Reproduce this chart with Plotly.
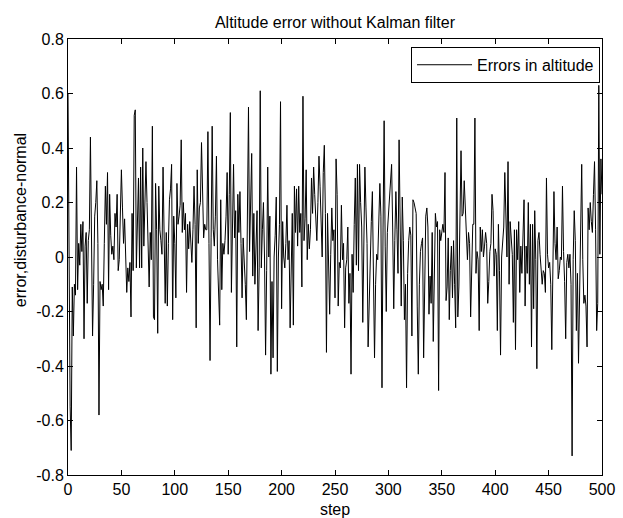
import plotly.graph_objects as go

# step index 0..500
steps = list(range(501))

# altitude error values (one per step)
errors_0_99 = [
    0.60, -0.20, -0.55, -0.71, -0.11, -0.29, -0.10, -0.14, 0.33, -0.12,
    0.05, -0.03, 0.12, 0.02, 0.13, -0.30, 0.04, 0.09, -0.17, 0.06,
    0.10, 0.44, 0.02, -0.29, -0.10, 0.15, 0.20, 0.28, 0.05, -0.58,
    -0.09, -0.12, -0.10, -0.18, 0.05, 0.26, 0.12, 0.31, -0.12, 0.23,
    0.08, 0.01, 0.04, -0.01, 0.16, 0.11, 0.23, -0.05, -0.01, 0.15,
    0.32, 0.18, 0.05, 0.14, 0.02, -0.13, -0.04, -0.09, -0.02, -0.22,
    0.16, -0.05, 0.52, 0.54, -0.04, 0.12, 0.29, -0.04, 0.33, -0.04,
    0.40, 0.04, 0.21, 0.35, 0.20, 0.07, -0.11, 0.09, -0.01, 0.48,
    -0.22, -0.23, 0.27, 0.10, -0.28, 0.26, 0.10, 0.06, 0.01, 0.33,
    0.12, -0.17, 0.09, -0.18, 0.05, 0.21, 0.25, 0.34, -0.23, 0.15,
]
errors_100_199 = [
    0.05, -0.15, 0.27, 0.12, 0.15, 0.19, 0.43, 0.09, 0.20, 0.10,
    0.16, -0.13, 0.12, 0.03, 0.13, 0.05, -0.02, 0.10, 0.26, 0.12,
    -0.26, 0.32, 0.05, 0.18, 0.20, 0.42, 0.22, 0.07, 0.12, 0.10,
    0.10, 0.46, 0.05, -0.38, 0.07, 0.48, 0.10, 0.04, 0.15, 0.37,
    -0.01, -0.11, -0.25, 0.21, -0.12, 0.05, 0.01, 0.06, 0.15, 0.31,
    0.01, 0.23, 0.53, -0.13, 0.10, 0.34, 0.07, 0.17, -0.33, 0.23,
    0.09, 0.24, 0.05, -0.15, 0.07, -0.01, -0.10, -0.23, 0.17, 0.55,
    0.02, 0.20, 0.38, -0.07, 0.16, -0.10, 0.03, 0.17, -0.27, -0.04,
    0.61, -0.04, 0.10, 0.20, 0.00, -0.36, -0.05, 0.33, 0.00, 0.15,
    -0.43, -0.09, -0.37, 0.00, 0.08, 0.22, -0.42, 0.00, 0.12, 0.57,
]
errors_200_299 = [
    -0.19, 0.13, 0.00, -0.04, 0.05, 0.19, -0.01, 0.06, -0.26, 0.02,
    0.16, -0.25, 0.26, 0.09, 0.25, 0.04, 0.26, 0.09, 0.16, -0.11,
    0.59, 0.06, 0.14, 0.32, -0.01, 0.12, 0.03, 0.10, 0.29, 0.16,
    0.33, 0.23, 0.15, 0.06, 0.20, 0.37, 0.26, 0.12, 0.00, 0.31,
    0.41, 0.16, -0.35, 0.16, 0.02, -0.21, 0.01, 0.18, 0.06, 0.10,
    -0.15, 0.36, 0.23, -0.18, -0.02, -0.04, 0.19, -0.01, 0.05, -0.26,
    -0.04, -0.01, 0.11, -0.17, -0.06, -0.43, 0.01, -0.13, 0.12, 0.29,
    -0.03, 0.34, -0.05, 0.34, 0.20, 0.11, -0.24, 0.11, 0.33, 0.18,
    0.05, -0.33, -0.16, 0.02, 0.13, 0.24, -0.08, -0.37, -0.10, 0.01,
    -0.01, 0.11, 0.27, 0.15, -0.48, 0.11, 0.50, 0.04, -0.20, 0.09,
]
errors_300_399 = [
    0.15, 0.23, 0.28, 0.34, 0.11, -0.19, 0.06, 0.24, 0.10, -0.06,
    0.43, 0.04, -0.18, 0.22, 0.06, -0.23, -0.10, -0.48, -0.06, 0.06,
    0.11, 0.08, -0.29, 0.21, 0.20, 0.18, 0.16, -0.18, -0.43, -0.10,
    0.02, 0.05, 0.07, -0.37, -0.01, 0.15, 0.18, 0.11, -0.21, -0.07,
    -0.17, 0.09, -0.31, -0.10, 0.16, 0.11, 0.13, -0.49, 0.10, 0.06,
    0.09, 0.12, 0.09, 0.31, -0.16, -0.11, 0.07, -0.23, -0.05, 0.04,
    -0.15, 0.06, -0.10, -0.26, 0.51, -0.22, -0.11, 0.21, 0.39, 0.15,
    0.16, 0.28, 0.20, 0.12, -0.01, 0.09, 0.05, -0.22, -0.05, 0.12,
    0.12, 0.51, -0.06, 0.02, -0.01, -0.27, 0.11, 0.02, 0.10, 0.00,
    0.04, 0.09, 0.05, -0.17, -0.09, 0.02, 0.05, 0.23, 0.17, -0.07,
]
errors_400_500 = [
    0.03, 0.01, -0.27, 0.12, -0.05, -0.36, 0.00, 0.06, 0.11, 0.31,
    0.15, 0.00, 0.35, -0.10, 0.13, 0.05, 0.01, -0.24, 0.10, -0.34,
    0.10, -0.01, 0.13, -0.13, 0.04, -0.06, 0.12, 0.21, -0.18, 0.04,
    -0.06, 0.20, -0.10, 0.12, -0.33, 0.12, -0.19, 0.17, -0.01, -0.41,
    0.06, 0.09, 0.01, -0.05, -0.10, -0.05, -0.06, -0.13, 0.29, 0.01,
    -0.04, -0.02, -0.10, -0.34, -0.01, 0.24, 0.05, -0.01, 0.11, -0.08,
    -0.05, 0.00, -0.01, 0.26, 0.02, -0.09, -0.30, -0.02, 0.01, -0.04,
    0.01, -0.10, -0.73, -0.01, 0.17, 0.06, -0.27, -0.06, -0.39, -0.09,
    0.05, 0.34, -0.01, -0.17, -0.14, -0.18, -0.33, 0.18, 0.10, 0.20,
    0.13, 0.09, 0.23, 0.35, 0.10, -0.27, -0.17, 0.63, 0.01, 0.36,
    0.23,
]
errors = errors_0_99 + errors_100_199 + errors_200_299 + errors_300_399 + errors_400_500

x_ticks = list(range(0, 501, 50))
y_ticks = [-0.8, -0.6, -0.4, -0.2, 0, 0.2, 0.4, 0.6, 0.8]
y_tick_text = ["-0.8", "-0.6", "-0.4", "-0.2", "0", "0.2", "0.4", "0.6", "0.8"]

FONT = "Liberation Sans, Arial, Helvetica, sans-serif"
FS = 16

fig = go.Figure()
fig.add_trace(go.Scatter(
    x=steps, y=errors, mode="lines",
    line=dict(color="#000000", width=1),
    name="Errors in altitude",
))

axis_common = dict(
    showline=True, linecolor="black", linewidth=1, mirror="allticks",
    ticks="inside", ticklen=5, tickcolor="black", tickwidth=1,
    showgrid=False, zeroline=False, automargin=False,
    tickfont=dict(family=FONT, size=FS, color="black"),
)

fig.update_layout(
    width=623, height=518,
    margin=dict(l=68, r=21, t=39, b=43),
    paper_bgcolor="white", plot_bgcolor="white",
    font=dict(family=FONT, size=FS, color="black"),
    title=dict(text="Altitude error without Kalman filter",
               x=0.5, xref="paper", xanchor="center",
               y=1 - 22 / 518, yref="container", yanchor="middle",
               font=dict(family=FONT, size=FS, color="black")),
    xaxis=dict(range=[0, 500], tickvals=x_ticks,
               ticktext=[str(t) for t in x_ticks],
               title=dict(text="step", standoff=6,
                          font=dict(family=FONT, size=FS, color="black")),
               **axis_common),
    yaxis=dict(range=[-0.8, 0.8], tickvals=y_ticks, ticktext=y_tick_text,
               **axis_common),
    showlegend=True,
    legend=dict(x=0.9963, y=0.982, xanchor="right", yanchor="top",
                bordercolor="black", borderwidth=1, bgcolor="white",
                font=dict(family=FONT, size=FS, color="black"),
                itemwidth=55),
    annotations=[dict(
        text="error,disturbance-normal", textangle=-90,
        xref="paper", yref="paper", x=-(67.7 - 20) / 534.3, y=(475 - 220) / 435.7,
        xanchor="center", yanchor="middle", showarrow=False,
        font=dict(family=FONT, size=FS, color="black"),
    )],
)

fig.write_html("out.html")
